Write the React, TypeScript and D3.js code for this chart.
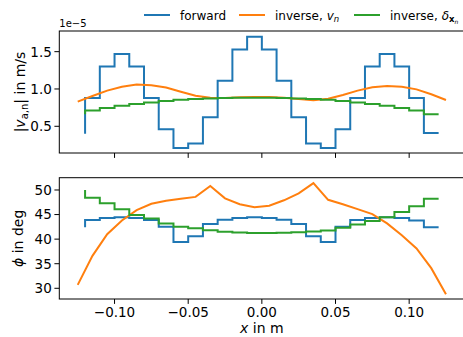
import React from 'react';
import * as d3 from 'd3';

// x positions of the cell-wise (step) results and of the inverse v_n curve, in m
const xStep = [-0.12, -0.11, -0.1, -0.09, -0.08, -0.07, -0.06, -0.05, -0.04, -0.03, -0.02, -0.01, 0.0,
  0.01, 0.02, 0.03, 0.04, 0.05, 0.06, 0.07, 0.08, 0.09, 0.1, 0.11, 0.12];
const xInv = [-0.125, -0.115, -0.105, -0.095, -0.085, -0.075, -0.065, -0.055, -0.045, -0.035, -0.025, -0.015, -0.005,
  0.005, 0.015, 0.025, 0.035, 0.045, 0.055, 0.065, 0.075, 0.085, 0.095, 0.105, 0.115, 0.125];

// |v_a,n| in units of 1e-5 m/s
const velForward = [0.40, 0.88, 1.30, 1.47, 1.30, 0.88, 0.46, 0.21, 0.27, 0.62, 1.11, 1.53, 1.70,
  1.53, 1.11, 0.62, 0.27, 0.21, 0.46, 0.88, 1.30, 1.47, 1.30, 0.88, 0.41];
const velInverseV = [0.83, 0.906, 0.978, 1.03, 1.06, 1.05, 1.02, 0.964, 0.91, 0.884, 0.88, 0.888, 0.893,
  0.893, 0.884, 0.866, 0.848, 0.87, 0.92, 0.978, 1.022, 1.04, 1.03, 0.995, 0.93, 0.853];
const velInverseD = [0.66, 0.71, 0.745, 0.775, 0.80, 0.82, 0.84, 0.855, 0.865, 0.872, 0.878, 0.882, 0.884,
  0.882, 0.878, 0.872, 0.865, 0.855, 0.84, 0.82, 0.80, 0.775, 0.745, 0.71, 0.66];

// phi in deg
const phiForward = [42.4, 43.9, 44.3, 44.45, 44.3, 43.9, 42.5, 39.4, 40.6, 43.1, 43.95, 44.3, 44.45,
  44.3, 43.95, 43.1, 40.6, 39.4, 42.5, 43.9, 44.3, 44.45, 44.3, 43.8, 42.4];
const phiInverseV = [30.7, 36.6, 41.0, 43.8, 45.9, 47.2, 47.8, 48.2, 48.6, 50.8, 48.3, 47.1, 46.5,
  46.8, 47.9, 49.3, 51.4, 48.0, 47.1, 46.1, 45.1, 43.2, 40.8, 38.1, 34.1, 28.8];
const phiInverseD = [50.0, 48.4, 47.3, 46.1, 44.9, 44.2, 43.2, 42.5, 42.2, 41.8, 41.5, 41.35, 41.25,
  41.25, 41.3, 41.4, 41.55, 41.75, 42.3, 43.0, 43.7, 44.45, 45.5, 46.7, 48.2];

const xTicks = [-0.1, -0.05, 0, 0.05, 0.1];
const velTicks = [0.5, 1.0, 1.5];
const phiTicks = [30, 35, 40, 45, 50];

const C_BLUE = '#1f77b4';
const C_ORANGE = '#ff7f0e';
const C_GREEN = '#2ca02c';
const FONT = 'DejaVu Sans';

const W = 463;
const H = 337;
const LEFT = 59.3;
const RIGHT = 464.4;
const TOP1 = 31, BOT1 = 153;
const TOP2 = 177.7, BOT2 = 299;
const TICK_FS = 13.5;
const INK = '#000';

const minus = (s: string) => s.replace('-', '\u2212');

export default function App() {
  const x = d3.scaleLinear().domain([-0.1375, 0.1375]).range([LEFT, RIGHT]);
  const yVel = d3.scaleLinear().domain([0.142, 1.777]).range([BOT1, TOP1]);
  const yPhi = d3.scaleLinear().domain([27.82, 52.5]).range([BOT2, TOP2]);

  const stepLine = (ys: number[], y: d3.ScaleLinear<number, number>) =>
    d3.line<number>().x((_, i) => x(xStep[i])).y(d => y(d)).curve(d3.curveStepBefore)(ys) || '';
  const smoothLine = (ys: number[], y: d3.ScaleLinear<number, number>) =>
    d3.line<number>().x((_, i) => x(xInv[i])).y(d => y(d))(ys) || '';

  const frame = (top: number, bot: number) => (
    <rect x={LEFT} y={top} width={RIGHT - LEFT} height={bot - top} fill="none" stroke="#000" strokeWidth={1} />
  );

  const xAxis = (bot: number, labels: boolean) => (
    <g>
      {xTicks.map(t => (
        <g key={t}>
          <line x1={x(t)} x2={x(t)} y1={bot} y2={bot + 4.9} stroke="#000" strokeWidth={1} />
          {labels && (
            <text x={x(t)} y={bot + 18} textAnchor="middle" fontSize={TICK_FS} fill={INK}>
              {minus(d3.format('.2f')(t))}
            </text>
          )}
        </g>
      ))}
    </g>
  );

  const yAxis = (ticks: number[], y: d3.ScaleLinear<number, number>, fmt: string) => (
    <g>
      {ticks.map(t => (
        <g key={t}>
          <line x1={LEFT - 4.9} x2={LEFT} y1={y(t)} y2={y(t)} stroke="#000" strokeWidth={1} />
          <text x={LEFT - 7.5} y={y(t)} dy="0.36em" textAnchor="end" fontSize={TICK_FS} fill={INK}>
            {d3.format(fmt)(t)}
          </text>
        </g>
      ))}
    </g>
  );

  const legendItems = [
    { color: C_BLUE, x0: 144, label: <tspan>forward</tspan> },
    {
      color: C_ORANGE, x0: 239,
      label: (
        <>
          <tspan>inverse, </tspan>
          <tspan fontStyle="italic">v</tspan>
          <tspan fontStyle="italic" fontSize={8.5} dy={2.5}>n</tspan>
        </>
      ),
    },
    {
      color: C_GREEN, x0: 354,
      label: (
        <>
          <tspan>inverse, </tspan>
          <tspan fontStyle="italic">δ</tspan>
          <tspan fontWeight="bold" fontSize={8.5} dy={2.5}>x</tspan>
          <tspan fontStyle="italic" fontSize={6} dy={1.5}>n</tspan>
        </>
      ),
    },
  ];

  return (
    <div style={{ position: 'absolute', left: 0, top: 0 }}>
      <svg width={W} height={H} fontFamily={FONT} style={{ display: 'block', background: '#fff' }}>
        <rect x={0} y={0} width={W} height={H} fill="#fff" />

        {/* top panel */}
        <path d={stepLine(velForward, yVel)} fill="none" stroke={C_BLUE} strokeWidth={2} />
        <path d={smoothLine(velInverseV, yVel)} fill="none" stroke={C_ORANGE} strokeWidth={2} />
        <path d={stepLine(velInverseD, yVel)} fill="none" stroke={C_GREEN} strokeWidth={2} />
        {frame(TOP1, BOT1)}
        {xAxis(BOT1, false)}
        {yAxis(velTicks, yVel, '.1f')}
        <text x={LEFT} y={TOP1 - 4} fontSize={10} fill={INK}>1e{'\u2212'}5</text>
        <text transform={`translate(25,${(TOP1 + BOT1) / 2}) rotate(-90)`} textAnchor="middle" fontSize={14} fill={INK}>
          <tspan>|</tspan>
          <tspan fontStyle="italic">v</tspan>
          <tspan fontSize={10} dy={3}>a,n</tspan>
          <tspan dy={-3}>| in m/s</tspan>
        </text>

        {/* bottom panel */}
        <path d={stepLine(phiForward, yPhi)} fill="none" stroke={C_BLUE} strokeWidth={2} />
        <path d={smoothLine(phiInverseV, yPhi)} fill="none" stroke={C_ORANGE} strokeWidth={2} />
        <path d={stepLine(phiInverseD, yPhi)} fill="none" stroke={C_GREEN} strokeWidth={2} />
        {frame(TOP2, BOT2)}
        {xAxis(BOT2, true)}
        {yAxis(phiTicks, yPhi, 'd')}
        <text transform={`translate(23,${(TOP2 + BOT2) / 2}) rotate(-90)`} textAnchor="middle" fontSize={14} fill={INK}>
          <tspan fontStyle="italic">ϕ</tspan>
          <tspan> in deg</tspan>
        </text>
        <text x={x(0)} y={333} textAnchor="middle" fontSize={14} fill={INK}>
          <tspan fontStyle="italic">x</tspan>
          <tspan> in m</tspan>
        </text>

        {/* legend */}
        {legendItems.map((it, i) => (
          <g key={i}>
            <line x1={it.x0} x2={it.x0 + 26} y1={15} y2={15} stroke={it.color} strokeWidth={2} />
            <text x={it.x0 + 36} y={19.5} fontSize={12} fill={INK}>{it.label}</text>
          </g>
        ))}
      </svg>
    </div>
  );
}
